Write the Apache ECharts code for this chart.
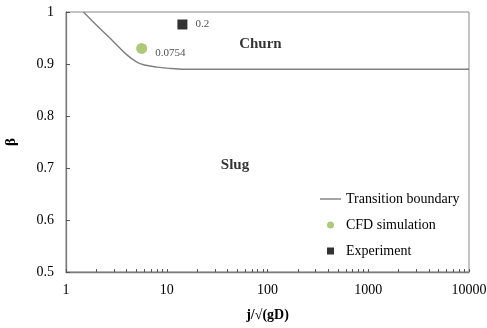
<!DOCTYPE html>
<html>
<head>
<meta charset="utf-8">
<script src="https://cdn.jsdelivr.net/npm/echarts@6/dist/echarts.min.js"></script>
<style>
  html, body { margin: 0; padding: 0; background: #fff; }
  #chart { width: 487px; height: 328px; }
</style>
</head>
<body>
<div id="chart"></div>
<script>
// Flow-regime map: slug / churn transition boundary
const xTickLabels = ['1', '10', '100', '1000', '10000'];
const yTickLabels = ['0.5', '0.6', '0.7', '0.8', '0.9', '1'];

// Transition boundary (j/sqrt(gD), beta)
const boundaryX = [1.49, 2, 3, 4, 5, 6, 8, 10, 15, 30, 100, 1000, 10000];
const boundaryY = [1.0, 0.975, 0.942, 0.918, 0.904, 0.898, 0.894, 0.892, 0.890, 0.890, 0.890, 0.890, 0.890];

// CFD simulation point and its annotation
const cfdX = [5.64];
const cfdY = [0.930];
const cfdText = ['0.0754'];

// Experiment point and its annotation
const expX = [14.3];
const expY = [0.976];
const expText = ['0.2'];

// Regime names
const regionNames = ['Churn', 'Slug'];
const regionX = [85, 47.6];
const regionY = [0.9375, 0.705];

const FONT = '"Liberation Serif", "DejaVu Serif", serif';

// log-axis tick positions: 1..9 of every decade
const xTicks = [];
for (let d = 1; d < 10000; d *= 10) {
  for (let m = 1; m < 10; m++) xTicks.push(d * m);
}
xTicks.push(10000);

const chart = echarts.init(document.getElementById('chart'), null, { renderer: 'canvas' });

const option = {
  animation: false,
  backgroundColor: '#fff',
  textStyle: { fontFamily: FONT },
  grid: {
    left: 66, right: 18, top: 12, bottom: 56,
    outerBoundsMode: 'none',
    containLabel: false,
    show: true, borderColor: '#8a8a8a', borderWidth: 1
  },
  legend: {
    orient: 'vertical',
    left: 315, top: 187,
    itemWidth: 21, itemHeight: 7, itemGap: 12,
    symbolKeepAspect: true,
    textStyle: { fontFamily: FONT, fontSize: 14, color: '#000' },
    data: [
      { name: 'Transition boundary', icon: 'path://M0,0H21V1.4H0Z', itemStyle: { color: '#7f7f7f' } },
      { name: 'CFD simulation', icon: 'circle' },
      { name: 'Experiment', icon: 'path://M0,0H1V1H0Z' }
    ]
  },
  xAxis: {
    type: 'log', logBase: 10, min: 1, max: 10000,
    name: 'j/√(gD)', nameLocation: 'middle', nameGap: 36,
    nameTextStyle: { fontFamily: FONT, fontSize: 14, fontWeight: 'bold', color: '#000' },
    axisLine: { lineStyle: { color: '#7a7a7a', width: 1.3 } },
    axisTick: { inside: true, length: 3, customValues: xTicks, lineStyle: { color: '#555' } },
    axisLabel: {
      margin: 11, fontFamily: FONT, fontSize: 14, color: '#000',
      customValues: xTickLabels.map(Number),
      formatter: v => xTickLabels[Math.round(Math.log10(v))]
    },
    splitLine: { show: false },
    minorSplitLine: { show: false }
  },
  yAxis: {
    type: 'value', min: 0.5, max: 1, interval: 0.1,
    name: 'β', nameLocation: 'middle', nameGap: 47,
    nameTextStyle: { fontFamily: FONT, fontSize: 15, fontWeight: 'bold', color: '#000' },
    axisLine: { show: true, lineStyle: { color: '#7a7a7a', width: 1.3 } },
    axisTick: { show: true, inside: true, length: 4, lineStyle: { color: '#555' } },
    axisLabel: {
      margin: 12, fontFamily: FONT, fontSize: 14, color: '#000',
      formatter: v => yTickLabels[Math.round((v - 0.5) * 10)]
    },
    splitLine: { show: false }
  },
  series: [
    {
      name: 'Transition boundary',
      type: 'line',
      data: boundaryX.map((x, i) => [x, boundaryY[i]]),
      smooth: 0.35,
      symbol: 'none',
      lineStyle: { color: '#7f7f7f', width: 1.4 },
      itemStyle: { color: '#7f7f7f' },
      z: 2
    },
    {
      name: 'CFD simulation',
      type: 'scatter',
      symbol: 'circle',
      symbolSize: 11,
      itemStyle: { color: '#9bbb59' },
      data: cfdX.map((x, i) => ({ value: [x, cfdY[i]], text: cfdText[i] })),
      label: {
        show: true, position: 'right', distance: 8, offset: [0, 5],
        formatter: p => p.data.text,
        fontFamily: FONT, fontSize: 11, color: '#222'
      },
      z: 3
    },
    {
      name: 'Experiment',
      type: 'scatter',
      symbol: 'rect',
      symbolSize: 10,
      itemStyle: { color: '#000' },
      data: expX.map((x, i) => ({ value: [x, expY[i]], text: expText[i] })),
      label: {
        show: true, position: 'right', distance: 8,
        formatter: p => p.data.text,
        fontFamily: FONT, fontSize: 11, color: '#222'
      },
      z: 3
    },
    {
      name: 'regions',
      type: 'scatter',
      symbol: 'circle',
      symbolSize: 2,
      silent: true,
      itemStyle: { color: 'rgba(255,255,255,0)' },
      data: regionNames.map((n, i) => ({ value: [regionX[i], regionY[i]], text: n })),
      label: {
        show: true, position: 'inside',
        formatter: p => p.data.text,
        fontFamily: FONT, fontSize: 15, fontWeight: 'bold', color: '#000'
      },
      labelLayout: { hideOverlap: false },
      z: 4
    }
  ]
};

chart.setOption(option);
</script>
</body>
</html>
